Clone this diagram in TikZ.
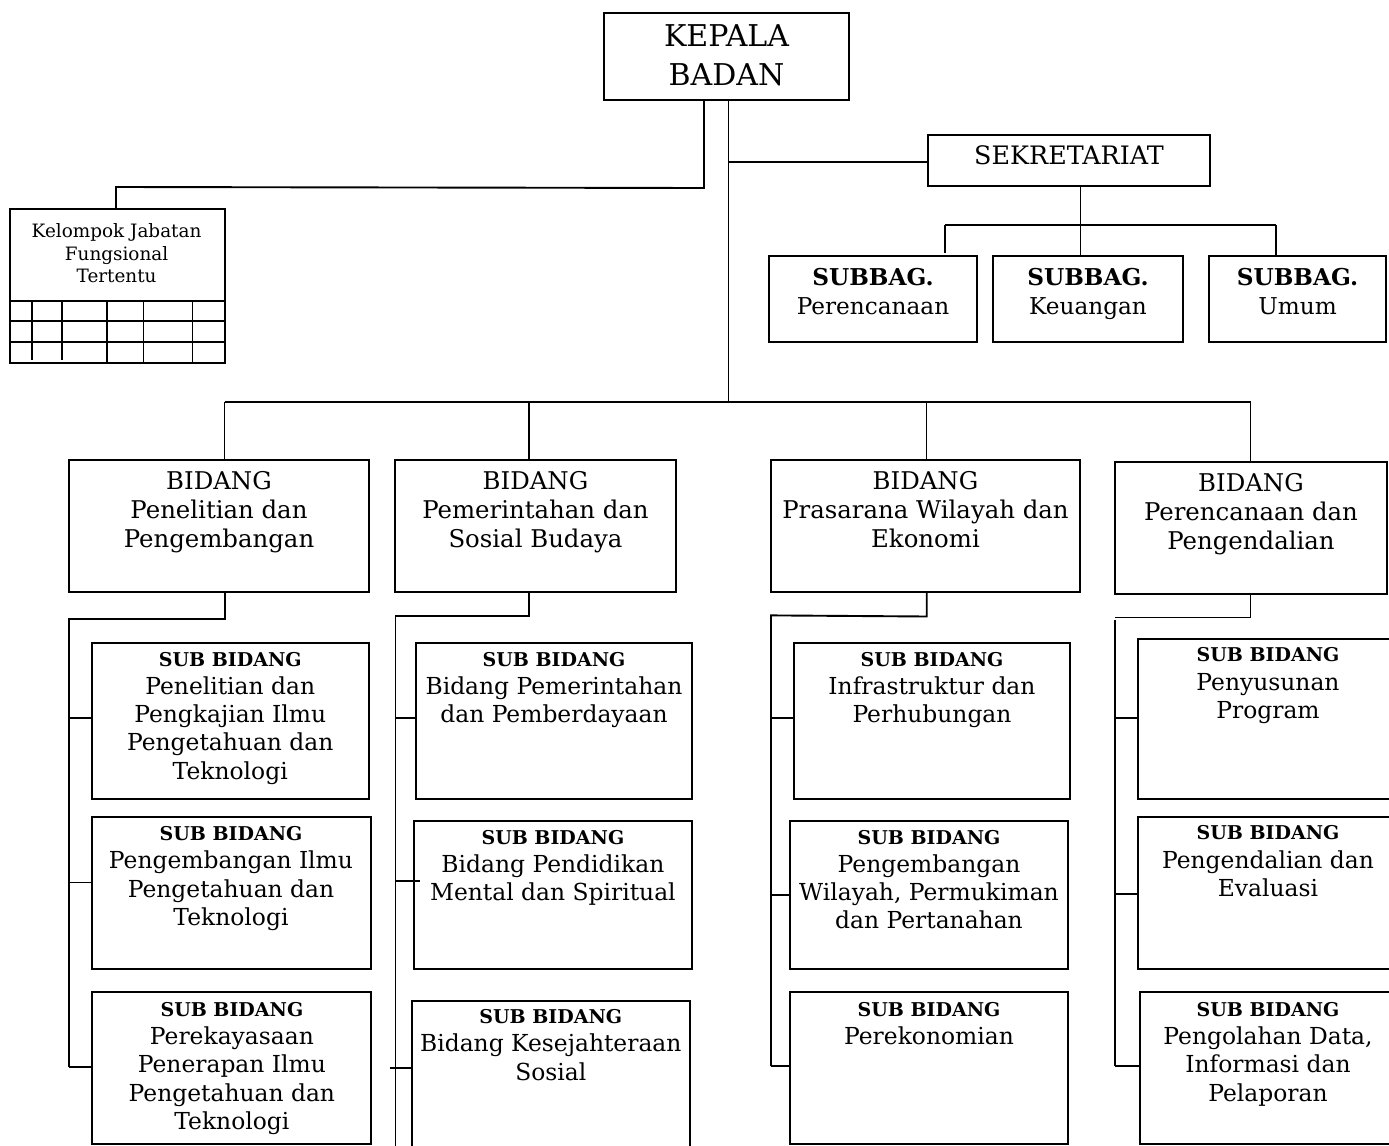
\documentclass[tikz,border=0pt]{standalone}
\usepackage{fontspec}
\setmainfont{DejaVu Serif}
\usetikzlibrary{fit}
\newcommand\subbid{{\fontsize{9.5}{11}\selectfont\bfseries SUB BIDANG}}
\newcommand\subbag{{\bfseries SUBBAG.}}
\begin{document}
\begin{tikzpicture}[x=0.5pt,y=-0.5pt,
  box/.style={draw, line width=1pt, inner sep=0pt},
  conn/.style={line width=0.95pt},
  txt/.style={align=center, inner sep=0pt, anchor=north},
  bt/.style={txt, font=\fontsize{12.2}{14.35}\selectfont},
  st/.style={txt, font=\fontsize{11.7}{14.1}\selectfont},
  sg/.style={txt, font=\fontsize{11.6}{14.5}\selectfont}]
\useasboundingbox (0,0) rectangle (1389,1146);
\fill[white] (0,0) rectangle (1389,1146);
\clip (0,0) rectangle (1389,1146);

% ---------- top ----------
\node[box, fit={(604,13) (849,100)}] (kepala) {};
\node[txt, font=\fontsize{15}{19.5}\selectfont] (kepalat) at (726.5,24.2) {KEPALA\\BADAN};

\node[box, fit={(928,135) (1210,186)}] (sekr) {};
\node[txt, font=\fontsize{12.7}{15}\selectfont] (sekrt) at (1069,145.5) {SEKRETARIAT};

\node[box, fit={(769,256) (977,342)}] (sb1) {};
\node[box, fit={(993,256) (1183,342)}] (sb2) {};
\node[box, fit={(1209,256) (1386,342)}] (sb3) {};
\node[sg] (sb1t) at (sb1.north |- 0,268.2) {\subbag\\Perencanaan};
\node[sg] (sb2t) at (sb2.north |- 0,268.2) {\subbag\\Keuangan};
\node[sg] (sb3t) at (sb3.north |- 0,268.2) {\subbag\\Umum};

% Kelompok Jabatan Fungsional
\node[box, fit={(10,209) (225,363)}] (kjf) {};
\node[txt, font=\fontsize{9.2}{11.25}\selectfont] (kjft) at (116.6,223.4) {Kelompok Jabatan\\Fungsional\\Tertentu};
\foreach \yy in {301,321,342} \draw[conn] (kjf.west |- 0,\yy) -- (kjf.east |- 0,\yy);
\foreach \xx in {32,62} \draw[conn] (\xx,301) -- (\xx,360);
\foreach \xx in {107,143.5,192.5} \draw[conn] (\xx,301) -- (kjf.south -| \xx,0);

% ---------- bidang ----------
\node[box, fit={(69,460) (369,592)}] (bid1) {};
\node[box, fit={(395,460) (676,592)}] (bid2) {};
\node[box, fit={(771,460) (1080,592)}] (bid3) {};
\node[box, fit={(1115,461.7) (1387,594)}] (bid4) {};
\node[bt] (bid1t) at (bid1.north |- 0,471.2) {BIDANG\\Penelitian dan\\Pengembangan};
\node[bt] (bid2t) at (bid2.north |- 0,471.2) {BIDANG\\Pemerintahan dan\\Sosial Budaya};
\node[bt] (bid3t) at (bid3.north |- 0,471.2) {BIDANG\\Prasarana Wilayah dan\\Ekonomi};
\node[bt] (bid4t) at (bid4.north |- 0,473.2) {BIDANG\\Perencanaan dan\\Pengendalian};

% ---------- sub bidang ----------
\node[box, fit={(91.5,642.5) (369,799)}] (s11) {};
\node[box, fit={(91.5,817) (370.5,969)}] (s12) {};
\node[box, fit={(92.4,992) (371.4,1144)}] (s13) {};
\node[box, fit={(415.6,642.5) (692.4,799)}] (s21) {};
\node[box, fit={(413.8,821) (692,969)}] (s22) {};
\node[box, fit={(411.6,1000.6) (690,1152)}] (s23) {};
\node[box, fit={(793.6,642.5) (1070.4,799)}] (s31) {};
\node[box, fit={(790,821) (1068,969)}] (s32) {};
\node[box, fit={(790,992) (1068,1144)}] (s33) {};
\node[box, fit={(1137.6,638.5) (1398,799)}] (s41) {};
\node[box, fit={(1137.6,817) (1398,969)}] (s42) {};
\node[box, fit={(1140,992) (1398,1144)}] (s43) {};

\node[st] (s11t) at (s11.north |- 0,651.8) {\subbid\\Penelitian dan\\Pengkajian Ilmu\\Pengetahuan dan\\Teknologi};
\node[st] (s12t) at (s12.north |- 0,826.2) {\subbid\\Pengembangan Ilmu\\Pengetahuan dan\\Teknologi};
\node[st] (s13t) at (s13.north |- 0,1001.9) {\subbid\\Perekayasaan\\Penerapan Ilmu\\Pengetahuan dan\\Teknologi};
\node[st] (s21t) at (s21.north |- 0,651.8) {\subbid\\Bidang Pemerintahan\\dan Pemberdayaan};
\node[st] (s22t) at (s22.north |- 0,829.7) {\subbid\\Bidang Pendidikan\\Mental dan Spiritual};
\node[st] (s23t) at (s23.north |- 0,1009.2) {\subbid\\Bidang Kesejahteraan\\Sosial};
\node[st] (s31t) at (s31.north |- 0,651.8) {\subbid\\Infrastruktur dan\\Perhubungan};
\node[st] (s32t) at (s32.north |- 0,829.7) {\subbid\\Pengembangan\\Wilayah, Permukiman\\dan Pertanahan};
\node[st] (s33t) at (s33.north |- 0,1001.9) {\subbid\\Perekonomian};
\node[st] (s41t) at (1268,647.4) {\subbid\\Penyusunan\\Program};
\node[st] (s42t) at (1268,825.4) {\subbid\\Pengendalian dan\\Evaluasi};
\node[st] (s43t) at (1268,1001.9) {\subbid\\Pengolahan Data,\\Informasi dan\\Pelaporan};

% ---------- connectors ----------
\draw[conn] (704,0 |- kepala.south) -- (704,188) -- (116,187) -- (kjf.north -| 116,0);
\draw[conn] (728.5,0 |- kepala.south) -- (728.5,402);
\draw[conn] (728.5,162) -- (sekr.west |- 0,162);
\draw[conn] (1080.5,0 |- sekr.south) -- (sb2.north -| 1080.5,0);
\draw[conn] (945,225) -- (1276,225);
\draw[conn] (945,225) -- (945,253);
\draw[conn] (1276,225) -- (sb3.north -| 1276,0);

\draw[conn] (224.5,402) -- (1250.5,402);
\draw[conn] (224.5,402) -- (bid1.north -| 224.5,0);
\draw[conn] (528.6,402) -- (bid2.north -| 528.6,0);
\draw[conn] (926.5,402) -- (bid3.north -| 926.5,0);
\draw[conn] (1250.5,402) -- (bid4.north -| 1250.5,0);

% column 1
\draw[conn] (225.4,0 |- bid1.south) -- (225.4,618.6) -- (69,618.6) -- (69,1066.6);
\draw[conn] (69,718) -- (s11.west |- 0,718);
\draw[conn] (69,882.5) -- (s12.west |- 0,882.5);
\draw[conn] (69,1066.6) -- (s13.west |- 0,1066.6);
% column 2
\draw[conn] (528.6,0 |- bid2.south) -- (528.6,616) -- (395.5,616) -- (395.5,1150);
\draw[conn] (395.5,718) -- (417,718);
\draw[conn] (395.5,880.7) -- (419.6,880.7);
\draw[conn] (389.7,1068) -- (s23.west |- 0,1068);
% column 3
\draw[conn] (926.7,0 |- bid3.south) -- (926.7,616.5) -- (771,615.4) -- (771,1066);
\draw[conn] (771,718) -- (s31.west |- 0,718);
\draw[conn] (771,894.8) -- (s32.west |- 0,894.8);
\draw[conn] (771,1066) -- (s33.west |- 0,1066);
% column 4
\draw[conn] (1250.5,0 |- bid4.south) -- (1250.5,617.5) -- (1115,617.5);
\draw[conn] (1115,620) -- (1115,1066);
\draw[conn] (1115,718) -- (s41.west |- 0,718);
\draw[conn] (1115,894) -- (s42.west |- 0,894);
\draw[conn] (1115,1066) -- (s43.west |- 0,1066);
\end{tikzpicture}
\end{document}
